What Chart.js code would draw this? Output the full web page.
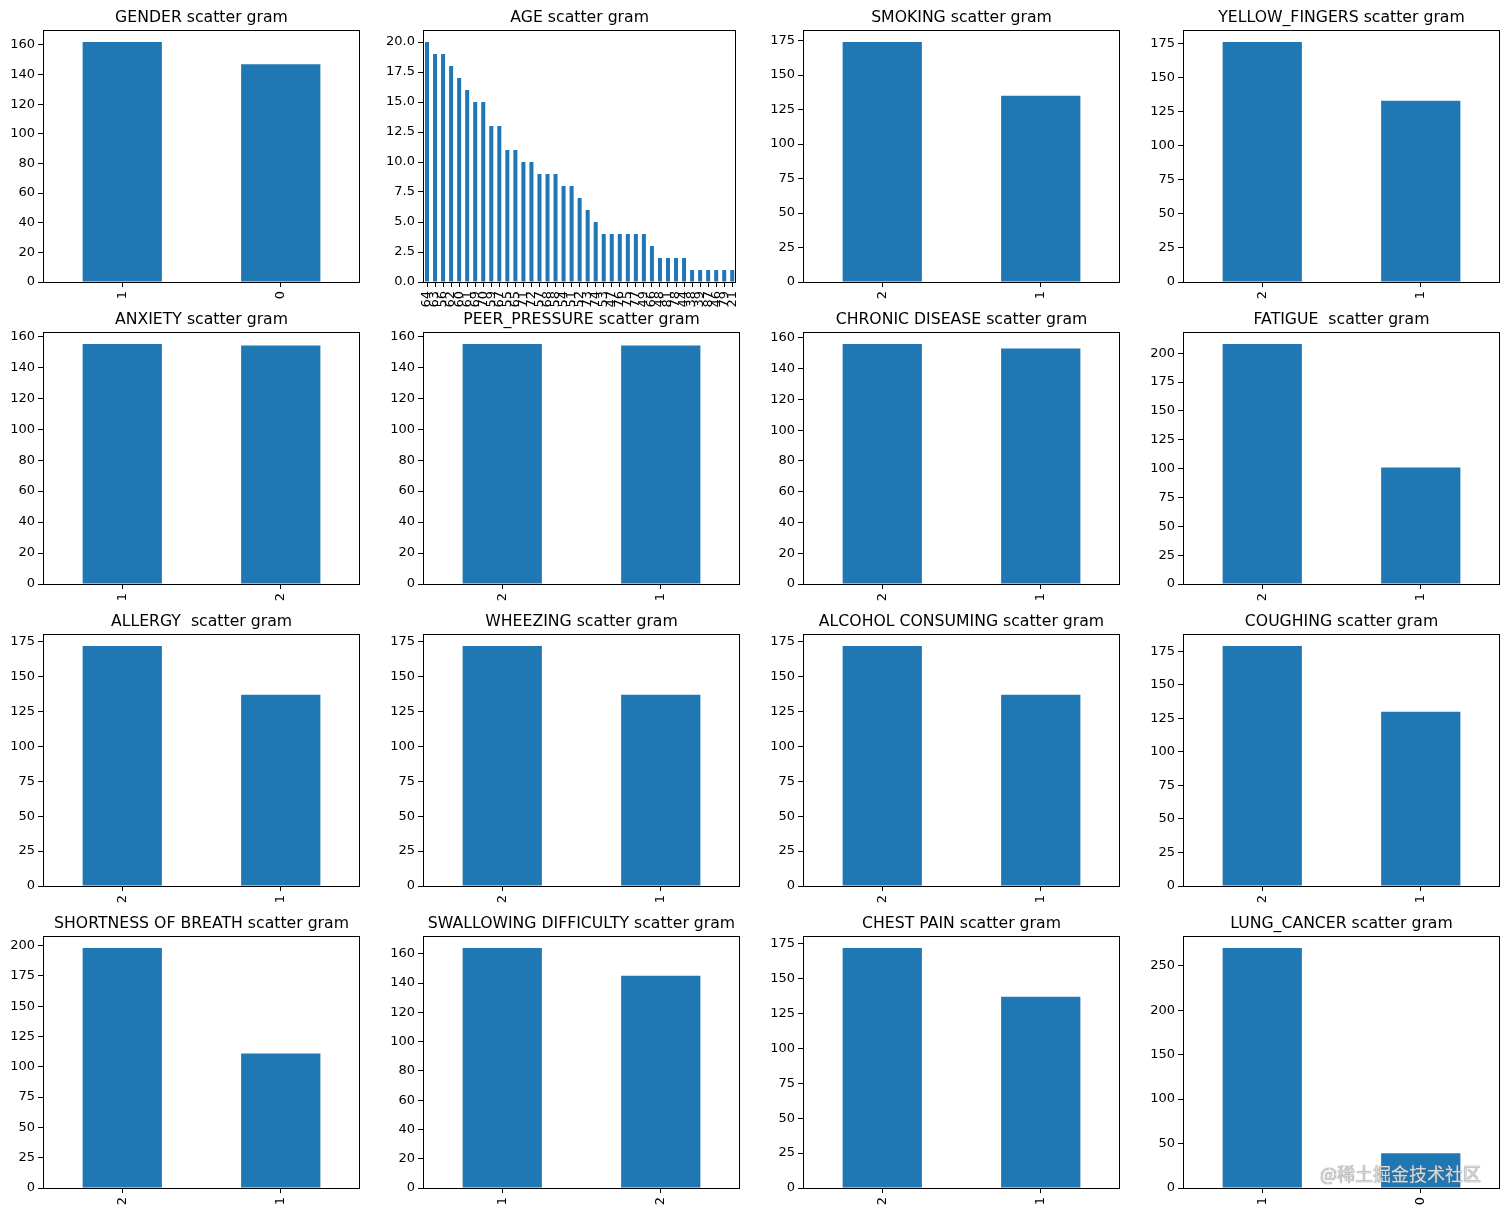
<!DOCTYPE html>
<html>
<head>
<meta charset="utf-8">
<script src="https://cdn.jsdelivr.net/npm/chart.js@4.4.1/dist/chart.umd.min.js"></script>
<style>
  html, body { margin: 0; padding: 0; background: #fff; }
  #wrap { position: relative; width: 1512px; height: 1214px; overflow: hidden; background: #fff; }
  canvas { position: absolute; }
  #wm { position: absolute; left: 1320px; top: 1160px; font-family: 'Noto Sans CJK SC', sans-serif;
        font-size: 18px; color: rgba(235,235,235,0.85); text-shadow: 0 0 1px #777, 0 0 1px #777; white-space: nowrap; }
</style>
</head>
<body>
<div id="wrap"><div id="wm">@稀土掘金技术社区</div></div>
<script>
// ---------- data ----------
const genderCats = ["1", "0"];
const genderVals = [162, 147];

const ageCats = ["64","63","56","62","60","61","69","70","59","67","55","65","71","72","57","68","58","54","51","52","73","74","53","47","76","75","77","49","66","48","81","78","44","38","39","87","46","79","21"];
const ageVals = [20,19,19,18,17,16,15,15,13,13,11,11,10,10,9,9,9,8,8,7,6,5,4,4,4,4,4,4,3,2,2,2,2,1,1,1,1,1,1];

const smokingCats = ["2", "1"];
const smokingVals = [174, 135];

const yellowCats = ["2", "1"];
const yellowVals = [176, 133];

const anxietyCats = ["1", "2"];
const anxietyVals = [155, 154];

const peerCats = ["2", "1"];
const peerVals = [155, 154];

const chronicCats = ["2", "1"];
const chronicVals = [156, 153];

const fatigueCats = ["2", "1"];
const fatigueVals = [208, 101];

const allergyCats = ["2", "1"];
const allergyVals = [172, 137];

const wheezingCats = ["2", "1"];
const wheezingVals = [172, 137];

const alcoholCats = ["2", "1"];
const alcoholVals = [172, 137];

const coughingCats = ["2", "1"];
const coughingVals = [179, 130];

const breathCats = ["2", "1"];
const breathVals = [198, 111];

const swallowCats = ["1", "2"];
const swallowVals = [164, 145];

const chestCats = ["2", "1"];
const chestVals = [172, 137];

const lungCats = ["1", "0"];
const lungVals = [270, 39];

const titles = [
  "GENDER scatter gram", "AGE scatter gram", "SMOKING scatter gram", "YELLOW_FINGERS scatter gram",
  "ANXIETY scatter gram", "PEER_PRESSURE scatter gram", "CHRONIC DISEASE scatter gram", "FATIGUE  scatter gram",
  "ALLERGY  scatter gram", "WHEEZING scatter gram", "ALCOHOL CONSUMING scatter gram", "COUGHING scatter gram",
  "SHORTNESS OF BREATH scatter gram", "SWALLOWING DIFFICULTY scatter gram", "CHEST PAIN scatter gram", "LUNG_CANCER scatter gram"
];

// ---------- chart specs (data refs + axis config) ----------
const specs = [
  { cats: genderCats,   vals: genderVals,   step: 20 },
  { cats: ageCats,      vals: ageVals,      step: 2.5, dec: 1 },
  { cats: smokingCats,  vals: smokingVals,  step: 25 },
  { cats: yellowCats,   vals: yellowVals,   step: 25 },
  { cats: anxietyCats,  vals: anxietyVals,  step: 20 },
  { cats: peerCats,     vals: peerVals,     step: 20 },
  { cats: chronicCats,  vals: chronicVals,  step: 20 },
  { cats: fatigueCats,  vals: fatigueVals,  step: 25 },
  { cats: allergyCats,  vals: allergyVals,  step: 25 },
  { cats: wheezingCats, vals: wheezingVals, step: 25 },
  { cats: alcoholCats,  vals: alcoholVals,  step: 25 },
  { cats: coughingCats, vals: coughingVals, step: 25 },
  { cats: breathCats,   vals: breathVals,   step: 25 },
  { cats: swallowCats,  vals: swallowVals,  step: 20 },
  { cats: chestCats,    vals: chestVals,    step: 25 },
  { cats: lungCats,     vals: lungVals,     step: 50 }
];

// ---------- rendering ----------
const FONT = "'DejaVu Sans', sans-serif";
const TICK_SIZE = 13;
Chart.defaults.font.family = FONT;
Chart.defaults.color = '#000';

// axes frame (all four spines) + title centred over the plot area
const frame = {
  id: 'frame',
  afterDatasetsDraw(chart) {
    const a = chart.chartArea, ctx = chart.ctx;
    ctx.save();
    ctx.strokeStyle = '#000';
    ctx.lineWidth = 1;
    ctx.strokeRect(Math.round(a.left) + 0.5, Math.round(a.top) + 0.5,
                   Math.round(a.right - a.left) - 1, Math.round(a.bottom - a.top));
    ctx.restore();
  },
  afterDraw(chart, args, opts) {
    const a = chart.chartArea, ctx = chart.ctx;
    ctx.save();
    ctx.fillStyle = '#000';
    ctx.font = "15.7px " + FONT;
    ctx.textAlign = 'center';
    ctx.textBaseline = 'alphabetic';
    ctx.fillText(opts.text || '', (a.left + a.right) / 2, a.top - 8);
    ctx.restore();
  }
};

const wrap = document.getElementById('wrap');
const CW = 372, CH = 322;

specs.forEach((s, i) => {
  const row = Math.floor(i / 4), col = i % 4;
  const cv = document.createElement('canvas');
  cv.width = CW; cv.height = CH;
  cv.style.left = (col * 380) + 'px';
  cv.style.top = (row * 302) + 'px';
  cv.style.width = CW + 'px'; cv.style.height = CH + 'px';
  wrap.insertBefore(cv, document.getElementById('wm'));
  const ymax = Math.max(...s.vals) * 1.05;
  new Chart(cv.getContext('2d'), {
    type: 'bar',
    data: {
      labels: s.cats,
      datasets: [{
        data: s.vals,
        backgroundColor: '#1f77b4',
        borderWidth: 0,
        barPercentage: 0.5,
        categoryPercentage: 1.0
      }]
    },
    options: {
      responsive: false,
      animation: false,
      devicePixelRatio: 1,
      layout: { padding: { left: 0, right: 12, top: 30, bottom: 0 } },
      plugins: {
        legend: { display: false },
        tooltip: { enabled: false },
        title: { display: false },
        frame: { text: titles[i] }
      },
      scales: {
        x: {
          type: 'category',
          offset: true,
          grid: { display: true, offset: false, drawOnChartArea: false, drawTicks: true, tickLength: 5, tickColor: '#000', color: '#000' },
          border: { display: false },
          ticks: { autoSkip: false, minRotation: 90, maxRotation: 90, padding: 4, color: '#000',
                   font: { family: FONT, size: TICK_SIZE } },
          afterFit(scale) { scale.height = 40; }
        },
        y: {
          min: 0,
          max: ymax,
          grid: { display: true, drawOnChartArea: false, drawTicks: true, tickLength: 5, tickColor: '#000', color: '#000' },
          border: { display: false },
          ticks: {
            stepSize: s.step,
            includeBounds: false,
            padding: 3,
            color: '#000',
            font: { family: FONT, size: TICK_SIZE },
            callback: (v) => s.dec ? Number(v).toFixed(s.dec) : String(Math.round(v))
          },
          afterFit(scale) { scale.width = 43; }
        }
      }
    },
    plugins: [frame]
  });
});
</script>
</body>
</html>
